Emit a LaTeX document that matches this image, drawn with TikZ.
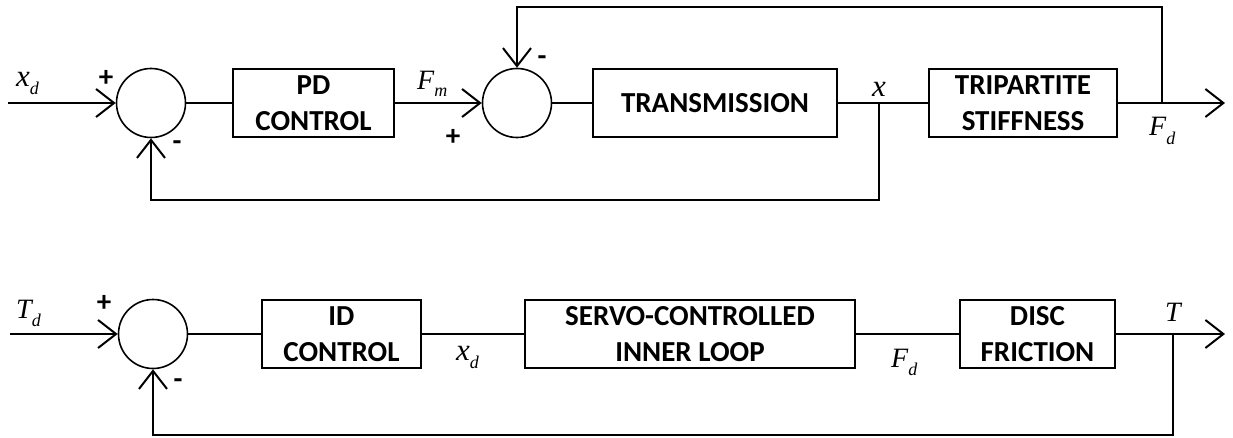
\documentclass[tikz,border=0pt]{standalone}
\usepackage{fontspec}
\setmainfont{Liberation Serif}
\newfontfamily\boxfont{Carlito}
\usetikzlibrary{arrows.meta}
\tikzset{
  blk/.style={draw, line width=1.8pt, minimum height=68pt, inner sep=0pt, align=center,
    font=\boxfont\bfseries\fontsize{29}{36}\selectfont},
  sumc/.style={draw, circle, minimum size=69pt, inner sep=0pt, line width=1.6pt},
  arr/.style={line width=2pt, -{Straight Barb[length=18pt,width=28pt,line width=2pt]}},
  ln/.style={line width=1.6pt},
  sgn/.style={inner sep=0pt, font=\boxfont\bfseries\fontsize{29}{29}\selectfont},
  lbl/.style={inner sep=0pt, anchor=base west}
}
\newcommand{\bigvar}[1]{{\fontsize{31}{31}\selectfont\itshape #1}}
\newcommand{\capvar}[1]{{\fontsize{28}{28}\selectfont\itshape #1}}
\newcommand{\subvar}[2]{\raisebox{-#2}{\fontsize{18}{18}\selectfont\itshape #1}}
\begin{document}
\begin{tikzpicture}[x=1pt,y=-1pt]
\useasboundingbox (0,0) rectangle (1233,438);
% ---------- top loop ----------
\node[sumc] (s1) at (151,103) {};
\node[blk, minimum width=161pt] (pd) at (313.5,103) {PD\\CONTROL};
\node[sumc] (s2) at (517,103) {};
\node[blk, minimum width=244pt] (tr) at (715,103) {TRANSMISSION};
\node[blk, minimum width=188pt] (tp) at (1023,103) {TRIPARTITE\\STIFFNESS};
\coordinate (in1) at (8,103);
\coordinate (out1) at (1225,103);
\coordinate (bx) at (879,103);
\coordinate (fb1) at (879,200);
\coordinate (tx) at (1162,103);
\coordinate (tt) at (1162,7);

\draw[arr] (in1) -- (s1.west);
\draw[ln] (s1.east) -- (pd.west);
\draw[arr] (pd.east) -- (s2.west);
\draw[ln] (s2.east) -- (tr.west);
\draw[ln] (tr.east) -- (tp.west);
\draw[arr] (tp.east) -- (out1);
\draw[arr] (bx) -- (fb1) -| (s1.south);
\draw[arr] (tx) -- (tt) -| (s2.north);

\node[lbl] (lxd) at (16,87) {\bigvar{x}\subvar{d}{8pt}};
\node[lbl] (lfm) at (417,90) {\capvar{F}\subvar{m}{7pt}};
\node[lbl] (lx) at (872,97) {\bigvar{x}};
\node[lbl] (lfd) at (1149,136) {\capvar{F}\subvar{d}{9pt}};
\node[sgn] (p1) at (106,78) {+};
\node[sgn] (m1) at (177,146) {-};
\node[sgn] (m2) at (542,61) {-};
\node[sgn] (p2) at (453,137) {+};

% ---------- bottom loop ----------
\node[sumc] (s3) at (153,334) {};
\node[blk, minimum width=159pt] (id) at (341.5,334) {ID\\CONTROL};
\node[blk, minimum width=330pt] (sv) at (690,334) {SERVO-CONTROLLED\\INNER LOOP};
\node[blk, minimum width=155pt] (df) at (1037.5,334) {DISC\\FRICTION};
\coordinate (in2) at (10,334);
\coordinate (out2) at (1225,334);
\coordinate (bt) at (1173,334);
\coordinate (fb2) at (1173,435);

\draw[arr] (in2) -- (s3.west);
\draw[ln] (s3.east) -- (id.west);
\draw[ln] (id.east) -- (sv.west);
\draw[ln] (sv.east) -- (df.west);
\draw[arr] (df.east) -- (out2);
\draw[arr] (bt) -- (fb2) -| (s3.south);

\node[lbl] (ltd) at (16,318) {\capvar{T}\subvar{d}{8pt}};
\node[lbl] (lxd2) at (456,360) {\bigvar{x}\subvar{d}{8pt}};
\node[lbl] (lfd2) at (891,367) {\capvar{F}\subvar{d}{8pt}};
\node[lbl] (lt) at (1165,321) {\capvar{T}};
\node[sgn] (p3) at (104,303) {+};
\node[sgn] (m3) at (178,384) {-};
\end{tikzpicture}
\end{document}
